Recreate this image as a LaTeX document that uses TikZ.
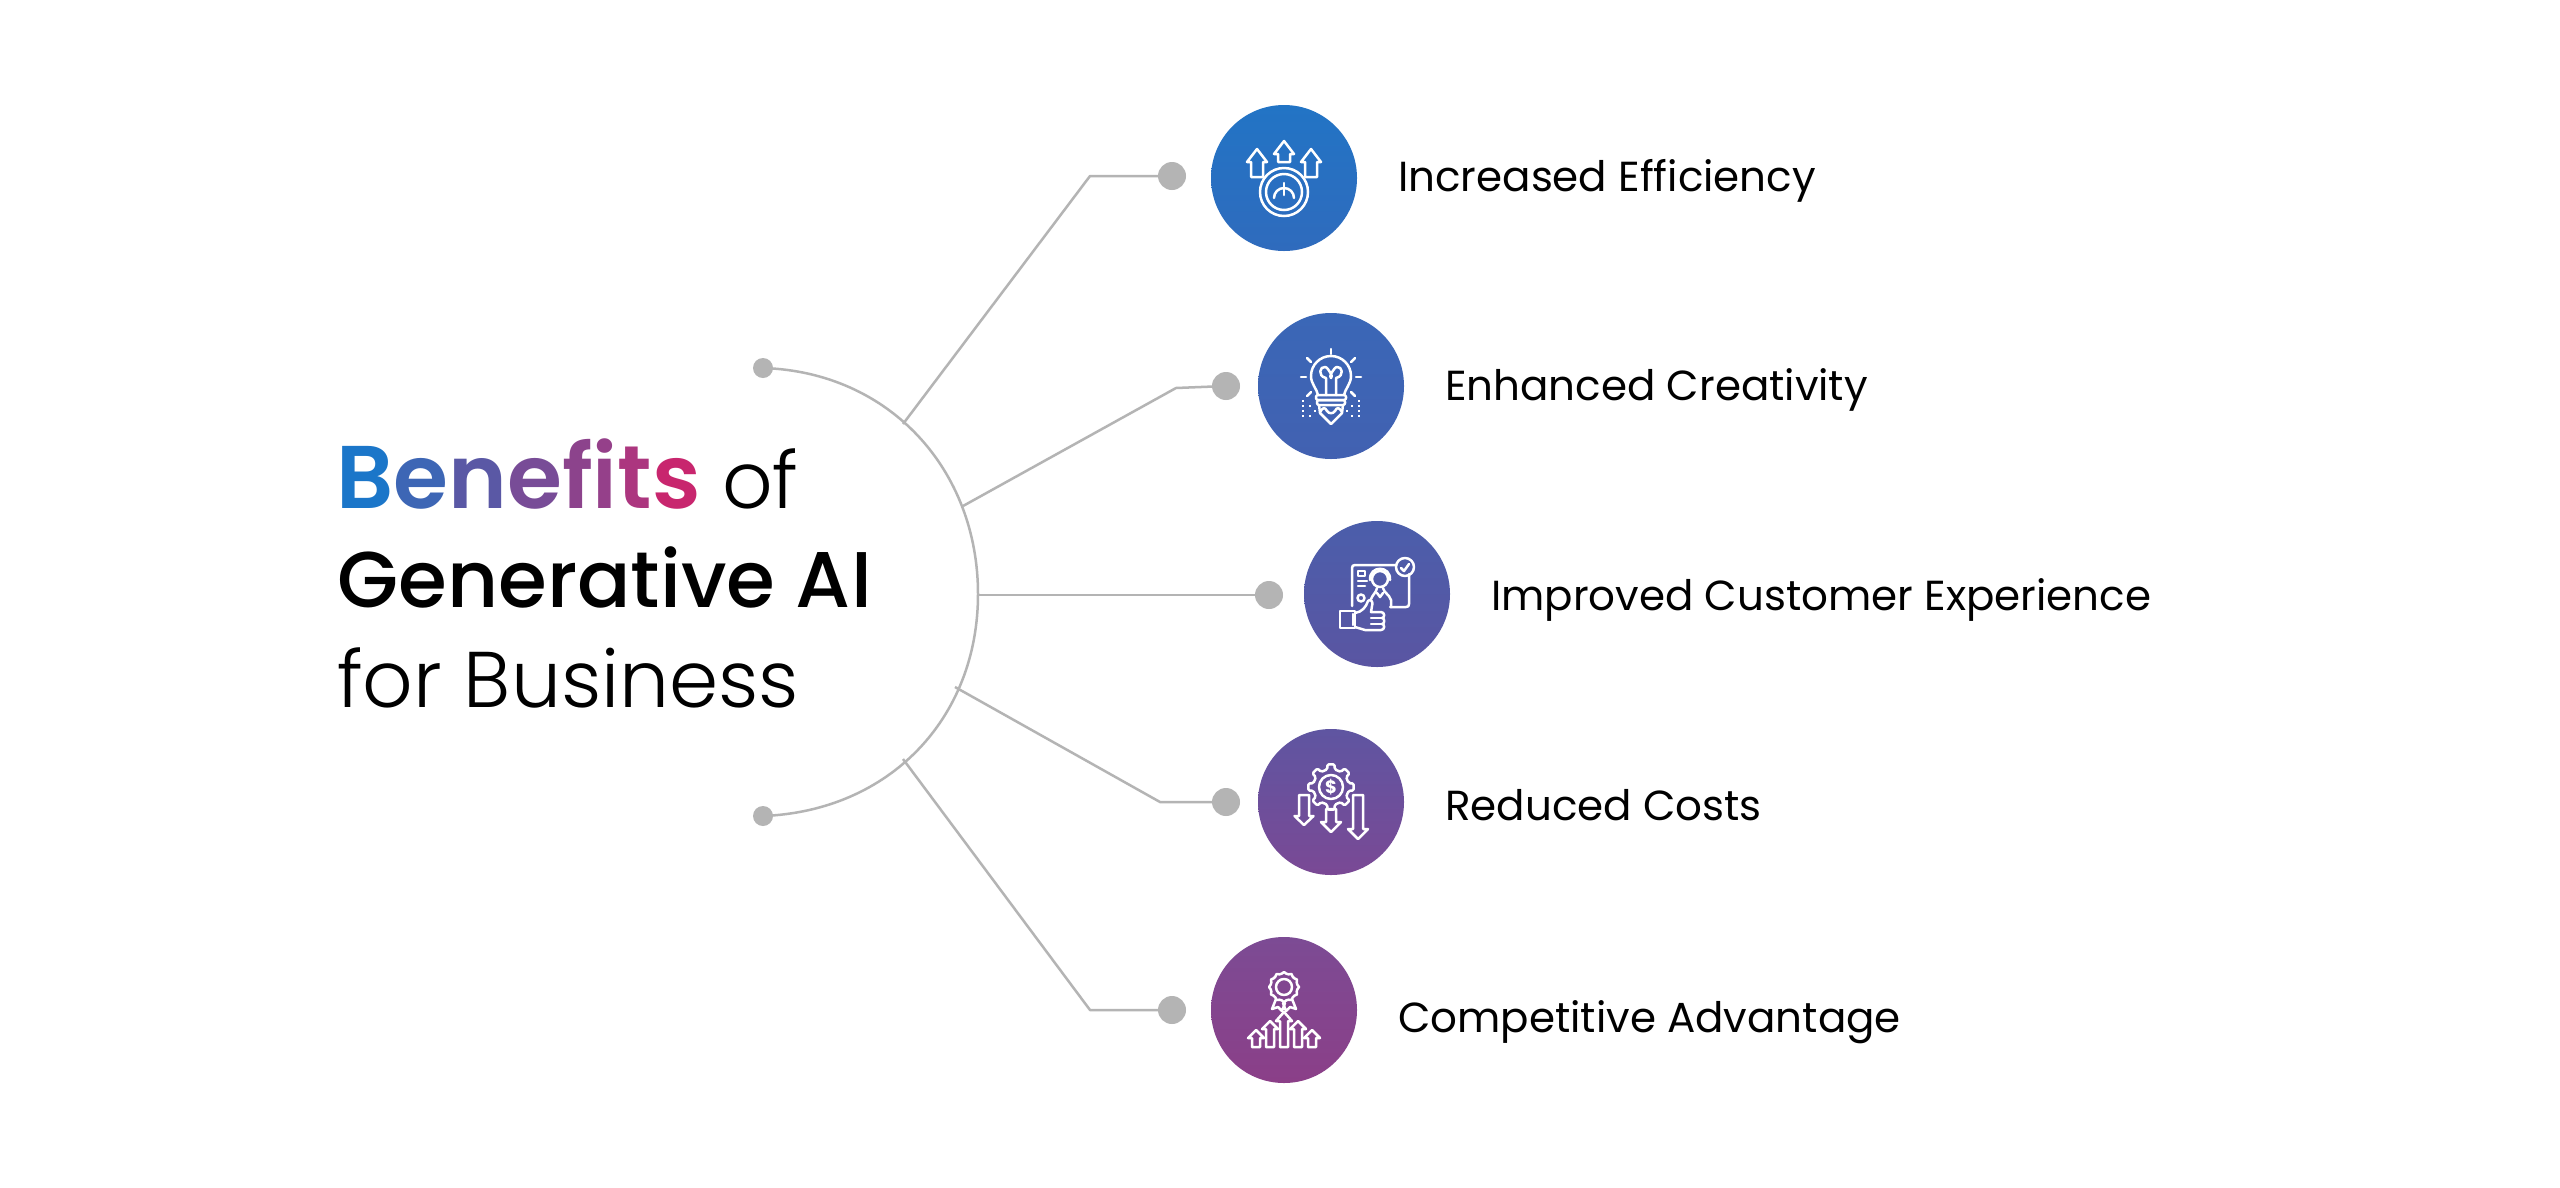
\documentclass[tikz,border=0pt]{standalone}
\usepackage{fontspec}
\setmainfont{Poppins}
\newfontfamily\poplight{Poppins Light}
\newfontfamily\popsemi{Poppins SemiBold}
\newfontfamily\popmed{Poppins Medium}
\definecolor{linegrey}{HTML}{B4B4B4}
\definecolor{ca1}{HTML}{2274C5}\definecolor{cb1}{HTML}{2F6BBD}
\definecolor{ca2}{HTML}{3A67B7}\definecolor{cb2}{HTML}{4261B1}
\definecolor{ca3}{HTML}{4B5EAB}\definecolor{cb3}{HTML}{5A55A2}
\definecolor{ca4}{HTML}{5F55A1}\definecolor{cb4}{HTML}{7A4995}
\definecolor{ca5}{HTML}{7C4B94}\definecolor{cb5}{HTML}{8B3F88}
\tikzset{
  dotnode/.style={circle,fill=linegrey,draw=none,minimum size=#1,inner sep=0pt},
  conn/.style={draw=linegrey,line width=2.5pt,line join=round},
  iconcirc/.style 2 args={circle,minimum size=146pt,inner sep=0pt,draw=none,top color=#1,bottom color=#2},
  lbl/.style={anchor=base west,inner sep=0pt,font=\fontsize{42}{50}\selectfont,text=black},
  ttl/.style={anchor=base west,inner sep=0pt,text=black},
  ic/.style={draw=white,line width=2.5pt,line join=round,line cap=round,fill=none}
}
\newcommand{\upa}[6]{% x tip headbase headhalf shafthalf bottom
  \draw[ic] ({#1-#5},#6) -- ({#1-#5},#3) -- ({#1-#4},#3) -- (#1,#2) -- ({#1+#4},#3) -- ({#1+#5},#3) -- ({#1+#5},#6) -- cycle;}
\newcommand{\dna}[6]{% x top headbase headhalf shafthalf tip
  \draw[ic] ({#1-#5},#2) -- ({#1-#5},#3) -- ({#1-#4},#3) -- (#1,#6) -- ({#1+#4},#3) -- ({#1+#5},#3) -- ({#1+#5},#2) -- cycle;}
\begin{document}
\begin{tikzpicture}[x=1pt,y=-1pt]
\useasboundingbox[fill=white] (0,0) rectangle (2560,1187);
% arc
\node[dotnode=20pt] (dt) at (763,368) {};
\node[dotnode=20pt] (db) at (763,816) {};
\draw[conn] (dt.center) .. controls (890,372) and (978,470) .. (978,594)
   .. controls (978,718) and (890,811) .. (db.center);
% connector start coordinates
\coordinate (s1) at (903,424);
\coordinate (s2) at (963,506);
\coordinate (s3) at (978,595);
\coordinate (s4) at (955,687);
\coordinate (s5) at (903,759);
% dots
\node[dotnode=28pt] (d1) at (1172,176) {};
\node[dotnode=28pt] (d2) at (1226,386) {};
\node[dotnode=28pt] (d3) at (1269,595) {};
\node[dotnode=28pt] (d4) at (1226,802) {};
\node[dotnode=28pt] (d5) at (1172,1010) {};
\draw[conn] (s1) -- (1090,176) -- (d1.center);
\draw[conn] (s2) -- (1176,388) -- (d2.center);
\draw[conn] (s3) -- (d3.center);
\draw[conn] (s4) -- (1160,802) -- (d4.center);
\draw[conn] (s5) -- (1090,1010) -- (d5.center);
% circles
\node[iconcirc={ca1}{cb1}] (c1) at (1284,178) {};
\node[iconcirc={ca2}{cb2}] (c2) at (1331,386) {};
\node[iconcirc={ca3}{cb3}] (c3) at (1377,594) {};
\node[iconcirc={ca4}{cb4}] (c4) at (1331,802) {};
\node[iconcirc={ca5}{cb5}] (c5) at (1284,1010) {};
% icon 1: gauge with three arrows
\begin{scope}[shift={(c1.center)}]
  \upa{0}{-37}{-24}{10}{6}{-16}
  \upa{-27}{-29}{-16}{10}{6}{-1}
  \upa{27}{-29}{-16}{10}{6}{-1}
  \draw[ic] (0,14) circle (24);
  \draw[ic] (0,14) circle (18);
  \draw[ic] (-10,20) arc[start angle=180,end angle=360,radius=10];
  \draw[ic] (0,5) -- (0,17);
\end{scope}
% icon 2: bulb and pencil
\begin{scope}[shift={(c2.center)}]
  \draw[ic] (-13,9) .. controls (-14,3) and (-20,-2) .. (-20,-10)
     arc[start angle=180,end angle=360,radius=20]
     .. controls (20,-2) and (14,3) .. (13,9);
  \draw[ic] (-5,9) -- (-5,-8) .. controls (-14,-10) and (-11,-20) .. (-6,-19) .. controls (-3,-19) and (3,-8) .. (0,-8)
     .. controls (-3,-8) and (3,-19) .. (6,-19) .. controls (11,-20) and (14,-10) .. (5,-8) -- (5,9);
  \draw[ic] (0,-37) -- (0,-32);
  \draw[ic] (-30,-9) -- (-25,-9);
  \draw[ic] (30,-9) -- (25,-9);
  \draw[ic] (-24,-28) -- (-20,-24);
  \draw[ic] (24,-28) -- (20,-24);
  \draw[ic] (-24,10) -- (-20,6);
  \draw[ic] (24,10) -- (20,6);
  \draw[ic,rounded corners=2pt] (-15,9) rectangle (15,14);
  \draw[ic,rounded corners=2pt] (-14,14) rectangle (14,19);
  \draw[ic] (-12,19) -- (-11,27) -- (0,38) -- (11,27) -- (12,19);
  \draw[ic] (-11,26) .. controls (-8,21) and (-6,21) .. (-4,25) .. controls (-2,28) and (2,28) .. (4,25) .. controls (6,21) and (8,21) .. (11,26);
  \foreach \sx in {-1,1}{
    \foreach \px/\py in {28/20,28/25,28/30,21/20,21/30,16/25,28/15}{
      \fill[white] ({\sx*\px-1.3},{\py-1.3}) rectangle ({\sx*\px+1.3},{\py+1.3});
    }
  }
\end{scope}
% icon 3: agent on screen with thumb up
\begin{scope}[shift={(c3.center)}]
  \draw[ic] (-25,12) -- (-25,-26) .. controls (-25,-28) and (-24,-29) .. (-22,-29) -- (19,-29);
  \draw[ic] (32,-20) -- (32,10) .. controls (32,12) and (31,13) .. (29,13) -- (13,13);
  \draw[ic] (28,-27) circle (9);
  \draw[ic] (24,-26) -- (27,-23) -- (32,-30);
  \draw[ic] (-19,-23) rectangle (-12,-18);
  \draw[ic] (-19,-13) -- (-10,-13);
  \draw[ic] (-19,-8) -- (-12,-8);
  \draw[ic] (-16,4) circle (3.5);
  \draw[ic] (3,-15) circle (8);
  \draw[ic] (-7,-14) .. controls (-8,-29) and (14,-29) .. (13,-14);
  \draw[ic] (-6,5) .. controls (-4,0) and (-1,-1) .. (0,-6);
  \draw[ic] (6,-6) .. controls (7,-1) and (12,0) .. (14,6) -- (14,13);
  \draw[ic] (0,-1) -- (3,3) -- (6,-1);
  \draw[ic] (-37,17) rectangle (-22,34);
  \draw[ic] (-24,20) -- (-24,31);
  \draw[ic] (-22,19) .. controls (-15,18) and (-11,13) .. (-9,7) .. controls (-7,4) and (-3,8) .. (-5,12) -- (-6,18) -- (4,18)
     .. controls (8,18) and (8,24) .. (5,24) .. controls (8,24) and (8,30) .. (5,30) .. controls (8,30) and (8,36) .. (4,36) -- (-12,36) -- (-22,33);
  \draw[ic] (-6,24) -- (5,24);
  \draw[ic] (-6,30) -- (5,30);
\end{scope}
% icon 4: gear with dollar and arrows
\begin{scope}[shift={(c4.center)}]
  \begin{scope}[shift={(0,-15)}]
    \draw[ic] (0,0) circle (12);
    \draw[ic,rounded corners=1.5pt] (-12:18)
      \foreach \a in {0,45,...,315}{ -- (\a-12:18) -- (\a-9:23) -- (\a+9:23) -- (\a+12:18) } -- cycle;
  \end{scope}
  \node[inner sep=0pt,text=white,font=\fontsize{18}{18}\selectfont\bfseries] (dollar) at (0,-15) {\$};
  \dna{-27}{-7}{14}{9.5}{5}{23}
  \dna{0}{7}{20}{10}{5}{30}
  \dna{27}{-7}{27}{10}{5}{37}
\end{scope}
% icon 5: rosette with arrows
\begin{scope}[shift={(c5.center)}]
  \draw[ic] (0,-23) circle (8);
  \draw[ic] plot[smooth cycle,samples=36,domain=0:350] ({(14+1.0*cos(12*\x))*cos(\x)},{-23+(14+1.0*cos(12*\x))*sin(\x)});
  \draw[ic] (-8,-11) -- (-12,-1) -- (-6,-3) -- (-2,1) -- (1,-7);
  \draw[ic] (8,-11) -- (12,-1) -- (6,-3) -- (2,1) -- (-1,-7);
  \upa{0}{2}{11}{8}{4}{37}
  \upa{-14}{11}{19}{8}{4}{37}
  \upa{14}{11}{19}{8}{4}{37}
  \upa{-28}{20}{28}{8}{4}{37}
  \upa{28}{20}{28}{8}{4}{37}
\end{scope}
% labels
\node[lbl] (l1) at (1398,191) {Increased Efficiency};
\node[lbl] (l2) at (1445,400) {Enhanced Creativity};
\node[lbl] (l3) at (1491,610) {Improved Customer Experience};
\node[lbl] (l4) at (1445,820) {Reduced Costs};
\node[lbl] (l5) at (1398,1032) {Competitive Advantage};
% title
\node[ttl] (t1) at (336,508) {\fontsize{89}{99}\selectfont\popsemi
  \textcolor[HTML]{1B76C9}{B}\textcolor[HTML]{3D66B5}{e}\textcolor[HTML]{5A58A5}{n}\textcolor[HTML]{784C97}{e}\textcolor[HTML]{8C438C}{f}\textcolor[HTML]{95408A}{i}\textcolor[HTML]{AC367F}{t}\textcolor[HTML]{C8266E}{s}\fontsize{79}{99}\selectfont\poplight\ of};
\node[ttl] (t2) at (337,607) {\fontsize{79}{99}\selectfont\popmed Generative AI};
\node[ttl] (t3) at (337,707) {\fontsize{79}{99}\selectfont\poplight for Business};
\end{tikzpicture}
\end{document}
